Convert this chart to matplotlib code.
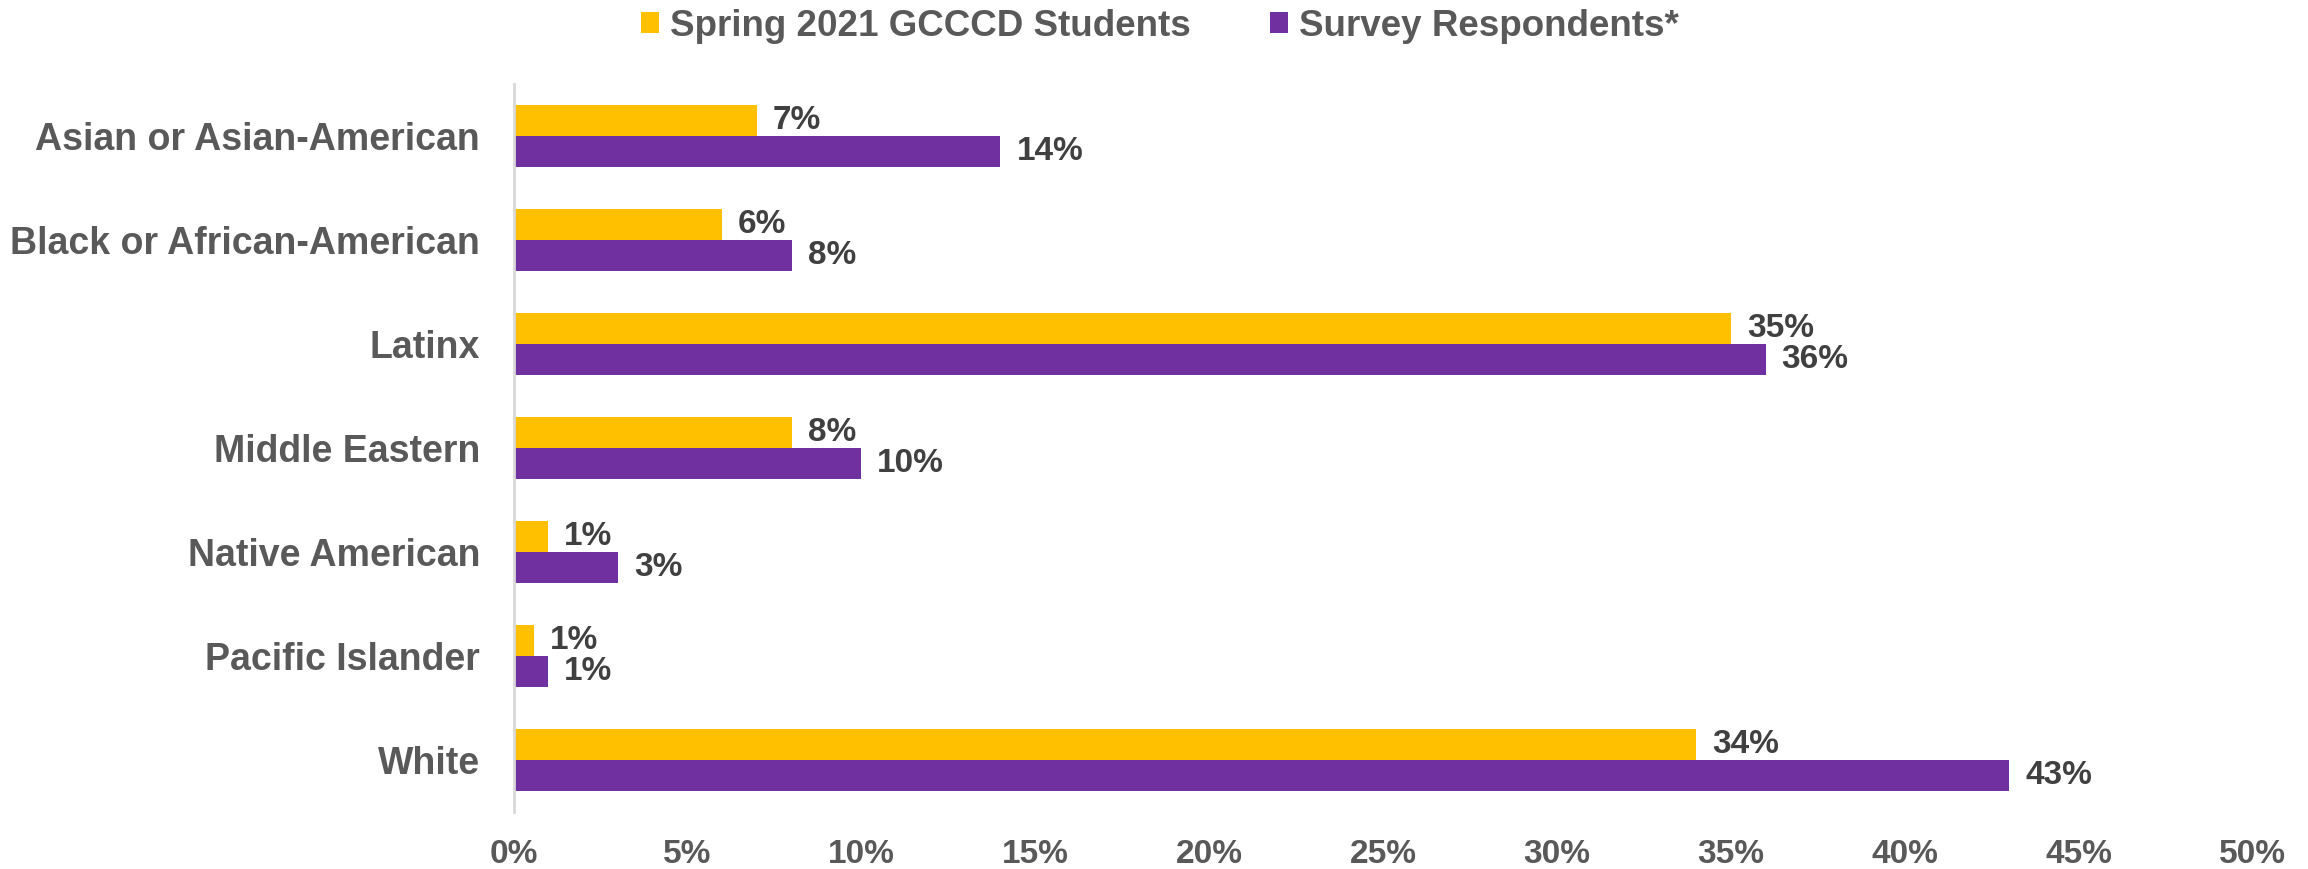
import matplotlib
matplotlib.use("Agg")
import matplotlib.pyplot as plt
import numpy as np
from matplotlib.ticker import FuncFormatter

categories = ["Asian or Asian-American", "Black or African-American", "Latinx",
              "Middle Eastern", "Native American", "Pacific Islander", "White"]
gcccd = [7.0, 6.0, 35.0, 8.0, 1.0, 0.6, 34.0]
gcccd_labels = ["7%", "6%", "35%", "8%", "1%", "1%", "34%"]
survey = [14.0, 8.0, 36.0, 10.0, 3.0, 1.0, 43.0]
survey_labels = ["14%", "8%", "36%", "10%", "3%", "1%", "43%"]
series_names = ["Spring 2021 GCCCD Students", "Survey Respondents*"]
xticks = [0, 5, 10, 15, 20, 25, 30, 35, 40, 45, 50]

plt.rcParams['font.family'] = ['Liberation Sans', 'DejaVu Sans']
YEL = "#FFC000"
PUR = "#7030A0"
TICK = "#595959"
LAB = "#404040"

fig = plt.figure(figsize=(23.08, 8.69), dpi=100)
ax = fig.add_axes([0.2225, 0.066, 0.7535, 0.837])

y = np.arange(len(categories))
h = 0.3
b1 = ax.barh(y - h/2, gcccd, height=h, color=YEL, label=series_names[0])
b2 = ax.barh(y + h/2, survey, height=h, color=PUR, label=series_names[1])

for bars, labels in ((b1, gcccd_labels), (b2, survey_labels)):
    for rect, lab in zip(bars, labels):
        ax.annotate(lab, (rect.get_width(), rect.get_y() + rect.get_height()/2),
                    xytext=(11.5, 0), textcoords="offset points", ha="left", va="center",
                    fontsize=24, fontweight="bold", color=LAB)

ax.set_xlim(0, 50)
ax.set_ylim(len(categories) - 0.5, -0.5)
ax.set_xticks(xticks)
ax.xaxis.set_major_formatter(FuncFormatter(lambda v, p: f"{int(v)}%"))
ax.set_yticks(y)
ax.set_yticklabels(categories)
ax.tick_params(axis="both", length=0, labelcolor=TICK)
ax.tick_params(axis="x", labelsize=24, pad=20)
ax.tick_params(axis="y", labelsize=27, pad=24)
for t in ax.get_xticklabels() + ax.get_yticklabels():
    t.set_fontweight("bold")

for s in ["top", "right", "bottom"]:
    ax.spines[s].set_visible(False)
ax.spines["left"].set_color("#D9D9D9")
ax.spines["left"].set_linewidth(2)

leg = fig.legend(handles=[b1, b2], loc="center", bbox_to_anchor=(0.5026, 0.970), ncol=2,
                 frameon=False, fontsize=26.5, handlelength=0.49, handleheight=0.49,
                 handletextpad=0.3, columnspacing=2.15, borderpad=0.2)
for t in leg.get_texts():
    t.set_fontweight("bold")
    t.set_color(TICK)

fig.savefig("out.png", dpi=100)
